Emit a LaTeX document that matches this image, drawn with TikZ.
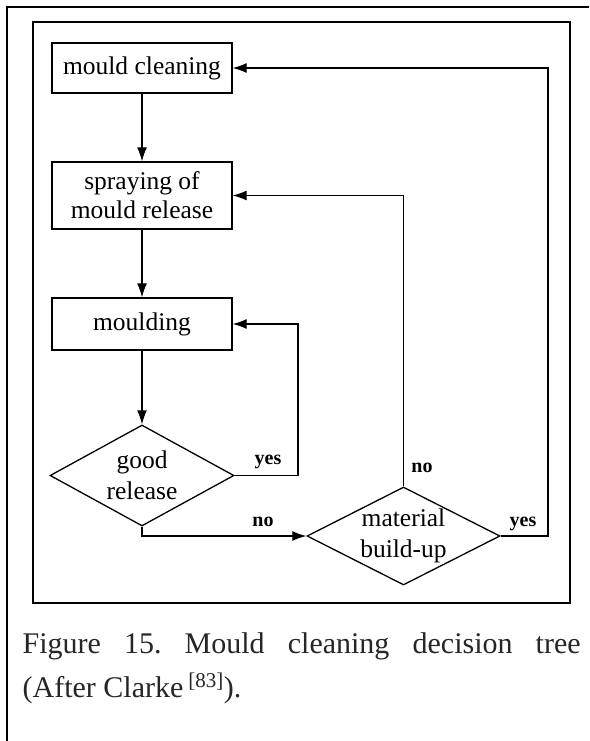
\documentclass[tikz,border=0pt]{standalone}
\usepackage{fontspec}
\setmainfont{Liberation Serif}
\usetikzlibrary{shapes.geometric,arrows.meta}
\frenchspacing
\begin{document}
\begin{tikzpicture}[x=1pt,y=-1pt,
  line width=1.3pt,
  box/.style={draw, rectangle, minimum width=180pt, inner sep=0pt, align=center,
    font=\fontsize{25.5}{29}\selectfont},
  dec/.style={draw, diamond, inner sep=0pt, align=center,
    font=\fontsize{25.5}{31}\selectfont},
  lbl/.style={font=\fontsize{20}{21}\selectfont\bfseries, inner sep=0pt},
  arr/.style={-{Latex[length=14pt,width=10pt]}},
  frame/.style={line width=1.5pt}]
\useasboundingbox (0,0) rectangle (589,741);
\fill[white] (0,0) rectangle (589,741);
% frames
\draw[line width=1.2pt] (7,741) -- (7,7) -- (589,7);
\draw[frame] (33,22) rectangle (570,603);
% nodes
\node[box, minimum height=50pt] (mc) at (142,68) {mould cleaning};
\node[box, minimum height=67pt] (sp) at (142,195.5) {spraying of\\mould release};
\node[box, minimum height=52pt] (mo) at (142,324) {moulding};
\node[dec, minimum width=184pt, minimum height=101pt, aspect=1.82] (gr) at (142,475.5) {good\\release};
\node[dec, minimum width=193pt, minimum height=98pt, aspect=1.97] (mb) at (403.5,536) {material\\build-up};
\coordinate (c0) at (298,475.5);
\coordinate (c1) at (548,536);
% connectors
\draw[arr] (mc.south) -- (sp.north);
\draw[arr] (sp.south) -- (mo.north);
\draw[arr] (mo.south) -- (gr.north);
\draw[arr] (gr.east) -- (c0) |- (mo.east);
\draw[arr] (gr.south) |- (mb.west);
\draw[arr] (mb.north) |- (sp.east);
\draw[arr] (mb.east) -- (c1) |- (mc.east);
% labels
\node[lbl] (ly1) at (268,462) {yes};
\node[lbl] (ln1) at (263,522) {no};
\node[lbl] (ln2) at (422,468) {no};
\node[lbl] (ly2) at (523,524) {yes};
% caption
\node[anchor=base west, inner sep=0pt, text=black!85, font=\fontsize{30}{45}\selectfont] (cap1) at (22,653)
  {\makebox[558pt][s]{Figure 15. Mould cleaning decision tree}};
\node[anchor=base west, inner sep=0pt, text=black!85, font=\fontsize{30}{45}\selectfont] (cap2) at (22,697)
  {(After Clarke\,\textsuperscript{[83]}).};
\end{tikzpicture}
\end{document}
